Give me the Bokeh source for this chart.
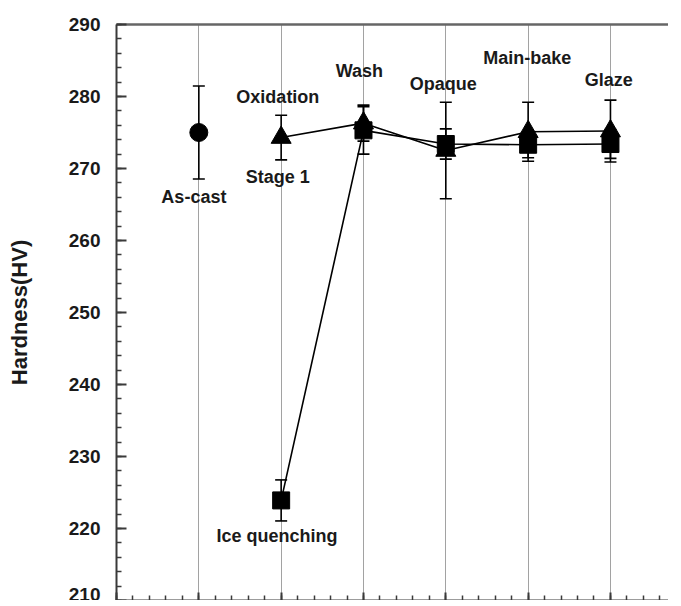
from bokeh.plotting import figure
from bokeh.models import ColumnDataSource, Whisker, TeeHead, LinearAxis, FixedTicker, Range1d, Grid
from bokeh.core.properties import value
from bokeh.embed import file_html
from bokeh.resources import INLINE

# ---- data ----
cast_x = [1]
cast_hv = [275.0]
cast_err = [6.45]

# Oxidation -> Stage 1 route (triangles)
tri_x = [2, 3, 4, 5, 6]
tri_hv = [274.3, 276.3, 272.5, 275.1, 275.2]
tri_err = [3.1, 2.5, 6.7, 4.1, 4.3]

# Ice quenching route (squares)
sq_x = [2, 3, 4, 5, 6]
sq_hv = [223.9, 275.3, 273.4, 273.3, 273.4]
sq_err = [2.85, 3.3, 2.1, 1.8, 2.0]

label_text = ["As-cast", "Oxidation", "Stage 1", "Wash", "Opaque", "Main-bake", "Glaze", "Ice quenching"]
label_x = [0.94, 1.96, 1.96, 2.95, 3.97, 4.99, 5.98, 1.95]
label_y = [266.1, 280.0, 268.8, 283.6, 281.8, 285.4, 282.3, 218.9]

y_ticks = list(range(210, 291, 10))
y_minor = list(range(210, 291, 2))
x_ticks = [0, 1, 2, 3, 4, 5, 6]
x_minor = [i / 5 for i in range(0, 34)]
stage_x = [1, 2, 3, 4, 5, 6]

FONT = "Liberation Sans"
INK = "#1a1a1a"
AXC = "#3a3a3a"

p = figure(width=668, height=600, output_backend="svg", toolbar_location=None,
           x_range=Range1d(0, 6.705), y_range=Range1d(210, 290),
           min_border_left=116, min_border_top=24, min_border_right=0, min_border_bottom=0,
           x_axis_location=None, y_axis_location=None)
p.outline_line_color = None
p.background_fill_color = "white"
p.border_fill_color = "white"
for gr in list(p.grid):
    gr.visible = False

# left axis
ya = LinearAxis(ticker=FixedTicker(ticks=y_ticks, minor_ticks=y_minor))
ya.axis_label = "Hardness(HV)"
ya.axis_label_text_font = FONT
ya.axis_label_text_font_style = "bold"
ya.axis_label_text_font_size = "22px"
ya.axis_label_text_color = INK
ya.axis_label_standoff = 34
ya.major_label_text_font = FONT
ya.major_label_text_font_style = "bold"
ya.major_label_text_font_size = "19px"
ya.major_label_text_color = INK
ya.major_label_standoff = 16
ya.axis_line_width = 2
ya.axis_line_color = AXC
ya.major_tick_in = 10
ya.major_tick_out = 0
ya.minor_tick_in = 5
ya.minor_tick_out = 0
ya.major_tick_line_width = 2
ya.major_tick_line_color = AXC
ya.minor_tick_line_width = 1.5
ya.minor_tick_line_color = AXC
p.add_layout(ya, "left")

# bottom axis (ticks only)
xa = LinearAxis(ticker=FixedTicker(ticks=x_ticks, minor_ticks=x_minor))
xa.major_label_text_font_size = "0px"
xa.major_label_text_alpha = 0
xa.major_label_standoff = 0
xa.axis_line_width = 2
xa.axis_line_color = AXC
xa.major_tick_in = 8
xa.major_tick_out = 0
xa.minor_tick_in = 5
xa.minor_tick_out = 0
xa.major_tick_line_width = 2
xa.major_tick_line_color = AXC
xa.minor_tick_line_width = 1.5
xa.minor_tick_line_color = AXC
p.add_layout(xa, "below")

# top frame line
ta = LinearAxis(ticker=FixedTicker(ticks=[]))
ta.major_label_text_font_size = "0px"
ta.major_label_standoff = 0
ta.major_tick_in = 0
ta.major_tick_out = 0
ta.minor_tick_in = 0
ta.minor_tick_out = 0
ta.axis_line_width = 2.5
ta.axis_line_color = "#666666"
p.add_layout(ta, "above")

# vertical dotted grid at stage positions
g = Grid(dimension=0, ticker=FixedTicker(ticks=stage_x))
g.grid_line_color = "#444444"
g.grid_line_dash = "1 1"
g.grid_line_width = 1
p.add_layout(g)

# series
cast_src = ColumnDataSource(dict(x=cast_x, y=cast_hv,
                                 up=[v + e for v, e in zip(cast_hv, cast_err)],
                                 lo=[v - e for v, e in zip(cast_hv, cast_err)]))
tri_src = ColumnDataSource(dict(x=tri_x, y=tri_hv,
                                up=[v + e for v, e in zip(tri_hv, tri_err)],
                                lo=[v - e for v, e in zip(tri_hv, tri_err)]))
sq_src = ColumnDataSource(dict(x=sq_x, y=sq_hv,
                               up=[v + e for v, e in zip(sq_hv, sq_err)],
                               lo=[v - e for v, e in zip(sq_hv, sq_err)]))

p.line("x", "y", source=tri_src, line_color="black", line_width=1.6)
p.line("x", "y", source=sq_src, line_color="black", line_width=1.6)

for src in (cast_src, tri_src, sq_src):
    w = Whisker(source=src, base="x", upper="up", lower="lo", dimension="height",
                line_color="black", line_width=1.6,
                upper_head=TeeHead(size=12, line_color="black", line_width=1.6),
                lower_head=TeeHead(size=12, line_color="black", line_width=1.6))
    p.add_layout(w)

p.scatter("x", "y", source=cast_src, marker="circle", size=18, fill_color="black", line_color="black")
p.scatter("x", "y", source=tri_src, marker="triangle", size=20, fill_color="black", line_color="black")
p.scatter("x", "y", source=sq_src, marker="square", size=17, fill_color="black", line_color="black")

lab_src = ColumnDataSource(dict(x=label_x, y=label_y, t=label_text))
p.text("x", "y", text="t", source=lab_src, text_align="center", text_baseline="middle",
       text_font=value(FONT), text_font_style="bold", text_font_size="18px", text_color=INK)

open("out.html", "w").write(file_html(p, INLINE))
